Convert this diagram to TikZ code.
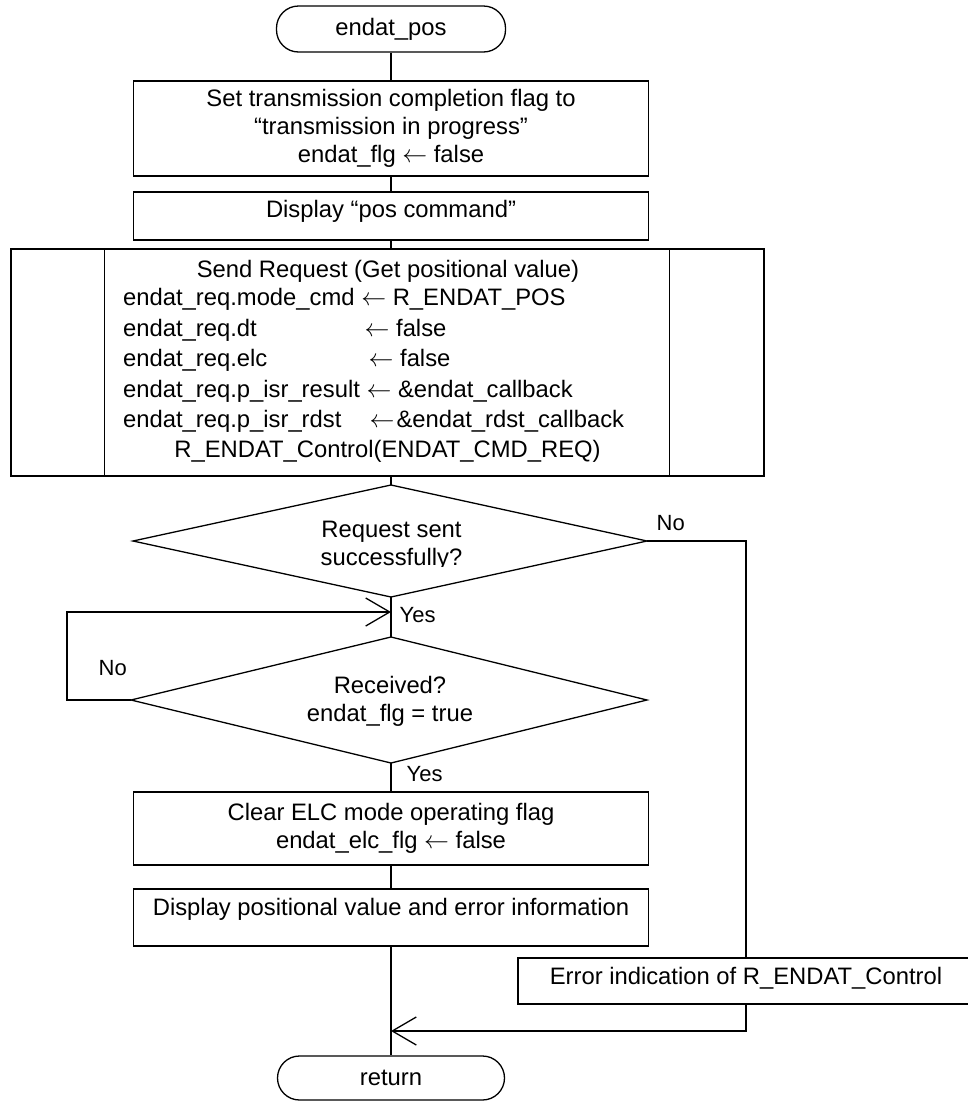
\documentclass[tikz,border=0pt]{standalone}
\usepackage{fontspec}
\setmainfont{Liberation Sans}
\usetikzlibrary{arrows.meta}
\newcommand{\myarr}{\ensuremath{\leftarrow}}
\begin{document}
\begin{tikzpicture}[x=1pt,y=-1pt,
  line width=1.3pt,
  every node/.style={font=\fontsize{23.8}{28}\selectfont},
  proc/.style={draw, rectangle, inner sep=0pt, align=center},
  procone/.style={draw, rectangle, inner sep=0pt},
  term/.style={draw, rectangle, rounded corners=22pt, inner sep=0pt},
  txt/.style={inner sep=0pt, anchor=base west},
  ctxt/.style={inner sep=0pt, anchor=base},
  lbl/.style={inner sep=0pt, anchor=west, font=\fontsize{22}{26}\selectfont},
  arr/.style={-{Straight Barb[length=24pt,width=28pt]}},
]
\clip (0,0) rectangle (968,1101);

% terminals and processes
\node[term, minimum width=229pt, minimum height=46pt] (start) at (391,29) {endat\_pos};
\node[proc, minimum width=515pt, minimum height=95pt] (b1) at (391,128.5)
  {Set transmission completion flag to\\“transmission in progress”\\endat\_flg \myarr{} false};
\node[procone, minimum width=515pt, minimum height=48pt, text height=17pt, text depth=15pt] (b2) at (391,216)
  {Display “pos command”};

% predefined process
\node[draw, rectangle, inner sep=0pt, minimum width=753pt, minimum height=227pt] (b3) at (387.5,362.5) {};
\draw ([xshift=94pt]b3.north west) -- ([xshift=94pt]b3.south west);
\draw ([xshift=-95pt]b3.north east) -- ([xshift=-95pt]b3.south east);
\node[ctxt] (s1) at (388,277) {Send Request (Get positional value)};
\node[txt] (s2) at (122.5,305) {endat\_req.mode\_cmd \myarr{} R\_ENDAT\_POS};
\node[txt] (s3a) at (122.5,336) {endat\_req.dt};
\node[txt] (s3b) at (364,336) {\myarr{} false};
\node[txt] (s4a) at (122.5,366) {endat\_req.elc};
\node[txt] (s4b) at (368,366) {\myarr{} false};
\node[txt] (s5) at (122.5,397) {endat\_req.p\_isr\_result \myarr{} \&endat\_callback};
\node[txt] (s6a) at (122.5,427) {endat\_req.p\_isr\_rdst};
\node[txt] (s6b) at (369,427) {\myarr\hspace{2pt}\&endat\_rdst\_callback};
\node[ctxt] (s7) at (387.5,457) {R\_ENDAT\_Control(ENDAT\_CMD\_REQ)};

% decision 1
\coordinate (d1n) at (391,485);
\coordinate (d1e) at (647,541);
\coordinate (d1s) at (391,597);
\coordinate (d1w) at (133,541);
\draw (d1n) -- (d1e) -- (d1s) -- (d1w) -- cycle;
\begin{scope}
  \clip (0,0) rectangle (968,566);
  \node[inner sep=0pt, align=center] (d1) at (391.5,546) {Request sent\\successfully?};
\end{scope}

% decision 2
\coordinate (d2n) at (391,637);
\coordinate (d2e) at (647,700);
\coordinate (d2s) at (391,763);
\coordinate (d2w) at (131,700);
\draw (d2n) -- (d2e) -- (d2s) -- (d2w) -- cycle;
\node[inner sep=0pt, align=center] (d2) at (390,701) {Received?\\endat\_flg = true};

\node[proc, minimum width=515pt, minimum height=73pt] (b4) at (391,828.5)
  {Clear ELC mode operating flag\\endat\_elc\_flg \myarr{} false};
\node[procone, minimum width=515pt, minimum height=57pt, text height=17pt, text depth=22pt] (b5) at (391,917.5)
  {Display positional value and error information};
\node[procone, minimum width=456pt, minimum height=46pt, text height=17pt, text depth=11pt] (err) at (746,981)
  {Error indication of R\_ENDAT\_Control};
\node[term, minimum width=227pt, minimum height=44pt] (ret) at (391,1078) {return};

% junctions
\coordinate (j1) at (391,612);
\coordinate (j2) at (391,1031);

% connectors
\draw (start.south) -- (b1.north);
\draw (b1.south) -- (b2.north);
\draw (b2.south) -- (b2.south |- b3.north);
\draw (d1n |- b3.south) -- (d1n);
\draw (d1s) -- (d2n);
\draw (d2s) -- (b4.north);
\draw (b4.south) -- (b5.north);
\draw (b5.south) -- (ret.north);
\draw[arr] (d2w) -- ++(-64,0) |- (j1);
\draw (d1e) -| (err.north);
\draw[arr] (err.south) |- (j2);

% labels
\node[lbl] (y1) at (399,615) {Yes};
\node[lbl] (y2) at (406,774) {Yes};
\node[lbl] (n1) at (656,523) {No};
\node[lbl] (n2) at (98,668) {No};
\end{tikzpicture}
\end{document}
